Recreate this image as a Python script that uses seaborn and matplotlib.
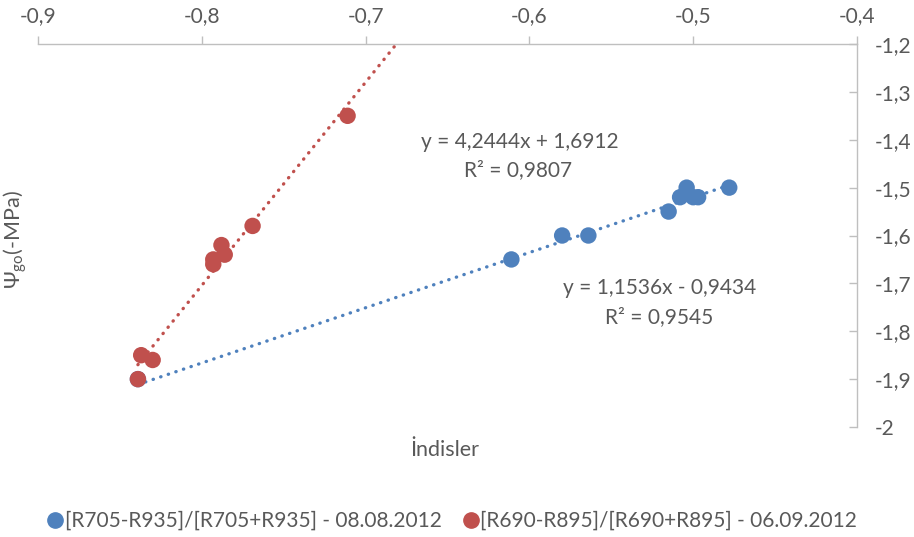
import numpy as np
import pandas as pd
import matplotlib
matplotlib.use("Agg")
import matplotlib.pyplot as plt
import seaborn as sns
from matplotlib.lines import Line2D

# ---- data ----
blue_label = "[R705-R935]/[R705+R935] - 08.08.2012"
red_label = "[R690-R895]/[R690+R895] - 06.09.2012"

blue_x = [-0.839, -0.611, -0.580, -0.564, -0.515, -0.508, -0.504, -0.500, -0.497, -0.478]
blue_y = [-1.90, -1.65, -1.60, -1.60, -1.55, -1.52, -1.50, -1.52, -1.52, -1.50]

red_x = [-0.839, -0.837, -0.830, -0.793, -0.793, -0.788, -0.786, -0.769, -0.711]
red_y = [-1.90, -1.85, -1.86, -1.66, -1.65, -1.62, -1.64, -1.58, -1.35]

blue_fit = [1.1536, -0.9434]
red_fit = [4.2444, 1.6912]
blue_eq = ["y = 1,1536x - 0,9434", "R² = 0,9545"]
red_eq = ["y = 4,2444x + 1,6912", "R² = 0,9807"]

x_ticks = [-0.9, -0.8, -0.7, -0.6, -0.5, -0.4]
x_ticklabels = ["-0,9", "-0,8", "-0,7", "-0,6", "-0,5", "-0,4"]
y_ticks = [-2.0, -1.9, -1.8, -1.7, -1.6, -1.5, -1.4, -1.3, -1.2]
y_ticklabels = ["-2", "-1,9", "-1,8", "-1,7", "-1,6", "-1,5", "-1,4", "-1,3", "-1,2"]

BLUE = "#4F81BD"
RED = "#C0504D"
TXT = "#595959"
AX = "#BFBFBF"

sns.set_theme(style="white")
FONT = ["Lato", "DejaVu Sans"]
plt.rcParams["font.family"] = FONT
FS = 15

df = pd.DataFrame({
    "x": blue_x + red_x,
    "y": blue_y + red_y,
    "s": [blue_label] * len(blue_x) + [red_label] * len(red_x),
})

fig = plt.figure(figsize=(9.14, 5.37), dpi=100)
ax = fig.add_axes([38 / 914, 1 - 427 / 537, (857 - 38) / 914, (427 - 44) / 537])

# trendlines
xb = np.array([min(blue_x), max(blue_x)])
ax.plot(xb, blue_fit[0] * xb + blue_fit[1], color=BLUE, lw=2.4,
        linestyle=(0, (0.1, 2.3)), dash_capstyle="round", zorder=2)
xr = np.array([min(red_x), -0.6])
ax.plot(xr, red_fit[0] * xr + red_fit[1], color=RED, lw=2.4,
        linestyle=(0, (0.1, 2.3)), dash_capstyle="round", zorder=2)

sns.scatterplot(data=df, x="x", y="y", hue="s", palette=[BLUE, RED],
                s=140, edgecolor="none", ax=ax, legend=False, zorder=3)

ax.set_xlim(-0.9, -0.4)
ax.set_ylim(-2.0, -1.2)
ax.set_xticks(x_ticks)
ax.set_xticklabels(x_ticklabels)
ax.set_yticks(y_ticks)
ax.set_yticklabels(y_ticklabels)
ax.xaxis.tick_top()
ax.yaxis.tick_right()
ax.tick_params(axis="x", direction="out", length=6, width=1, color=AX,
               labelsize=FS, labelcolor=TXT, pad=7)
ax.tick_params(axis="y", direction="in", length=6, width=1, color=AX,
               labelsize=FS, labelcolor=TXT, pad=13)
for side in ["left", "bottom"]:
    ax.spines[side].set_visible(False)
for side in ["top", "right"]:
    ax.spines[side].set_visible(True)
    ax.spines[side].set_color(AX)
    ax.spines[side].set_linewidth(1)
ax.set_xlabel("")
ax.set_ylabel("")

# equations
ax.text(520 / 914, 1 - 142 / 537, red_eq[0], transform=fig.transFigure,
        ha="center", va="center", fontsize=FS, color=TXT)
ax.text(518 / 914, 1 - 170 / 537, red_eq[1], transform=fig.transFigure,
        ha="center", va="center", fontsize=FS, color=TXT)
ax.text(660 / 914, 1 - 288 / 537, blue_eq[0], transform=fig.transFigure,
        ha="center", va="center", fontsize=FS, color=TXT)
ax.text(659 / 914, 1 - 317 / 537, blue_eq[1], transform=fig.transFigure,
        ha="center", va="center", fontsize=FS, color=TXT)

# axis titles
fig.text(445 / 914, 1 - 450 / 537, "İndisler", ha="center", va="center",
         fontsize=15.5, color=TXT)
fig.text(15 / 914, 1 - 240 / 537, "Ψ$_{\\mathregular{go}}$(-MPa)", ha="center",
         va="center", rotation=90, fontsize=15.5, color=TXT)

# legend
handles = [Line2D([], [], marker="o", ls="none", color=BLUE, markersize=11),
           Line2D([], [], marker="o", ls="none", color=RED, markersize=11)]
fig.legend(handles, [blue_label, red_label], loc="center",
           bbox_to_anchor=(452 / 914, 1 - 521 / 537), ncol=2, frameon=False,
           fontsize=FS, labelcolor=TXT, handletextpad=0.05, columnspacing=1.0,
           handlelength=0.8)

fig.savefig("out.png", dpi=100)
